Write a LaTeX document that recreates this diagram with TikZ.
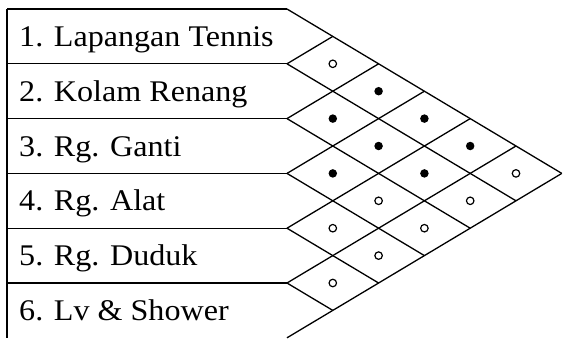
\documentclass[tikz,border=0pt]{standalone}
\usepackage{fontspec}
\setmainfont{Liberation Serif}[FakeStretch=1.07]
\usetikzlibrary{calc}

\begin{document}
\begin{tikzpicture}[x=1pt, y=-1pt,
  grid/.style={black, line width=1.3pt},
  item/.style={anchor=base west, inner sep=0pt, font=\fontsize{30}{34}\selectfont},
  strong/.style={circle, fill=black, inner sep=0pt, minimum size=8.5pt},
  weak/.style={circle, draw=black, line width=1.2pt, inner sep=0pt, minimum size=7.5pt},
]
\useasboundingbox (0,0) rectangle (563,338);
\def\dx{45.8}
\def\dy{27.4}

% row boundaries: left edge (l) and matrix edge (b)
\foreach \k in {0,...,6}{
  \coordinate (l\k) at (7,{9+2*\dy*\k});
  \coordinate (b\k) at (287,{9+2*\dy*\k});
}

% item rows
\draw[grid] (l0) -- (l6);
\foreach \k in {0,...,5} \draw[grid] (l\k) -- (b\k);

% item names
\foreach \t [count=\i] in {Lapangan Tennis, Kolam Renang, Rg. Ganti, Rg. Alat, Rg. Duduk, Lv \& Shower}
  \node[item] (r\i) at (19,{9+(2*\i-1)*\dy+10}) {\i. \t};

% matrix diagonals
\foreach \k in {0,...,5} \draw[grid] (b\k) -- ++({(6-\k)*\dx},{(6-\k)*\dy});
\foreach \m in {1,...,6} \draw[grid] (b\m) -- ++({\m*\dx},{-\m*\dy});

% relations (filled = strong, open = weak)
\foreach \i/\j/\s in {1/2/weak, 1/3/strong, 1/4/strong, 1/5/strong, 1/6/weak,
                      2/3/strong, 2/4/strong, 2/5/strong, 2/6/weak,
                      3/4/strong, 3/5/weak, 3/6/weak,
                      4/5/weak, 4/6/weak,
                      5/6/weak}
  \node[\s] (c\i\j) at ({287+(\j-\i)*\dx},{9+(\i+\j-1)*\dy}) {};
\end{tikzpicture}
\end{document}
